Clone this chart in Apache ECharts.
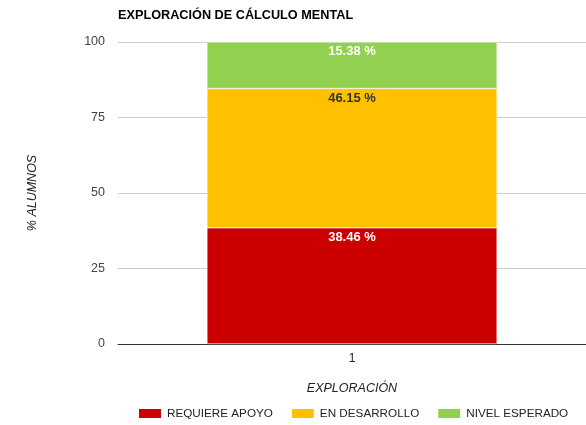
<!DOCTYPE html>
<html>
<head>
<meta charset="utf-8">
<script src="https://cdn.jsdelivr.net/npm/echarts@6/dist/echarts.min.js"></script>
<style>
    html, body { margin: 0; padding: 0; background: #fff; }
    #chart { width: 586px; height: 425px; }
</style>
</head>
<body>
<div id="chart"></div>
<script>
    // datos
    var categorias = ['1'];
    var requiereApoyo = [38.46];
    var enDesarrollo = [46.15];
    var nivelEsperado = [15.38];
    var yTicks = [0, 25, 50, 75, 100];

    var myChart = echarts.init(document.getElementById('chart'));
    var fuente = '"Liberation Sans", Arial, sans-serif';

    function serie(name, data, color, labelColor) {
        return {
            name: name,
            type: 'bar',
            stack: 'total',
            barWidth: '62%',
            data: data,
            itemStyle: {
                color: color,
                borderColor: '#fff',
                borderWidth: 0.5
            },
            label: {
                show: true,
                position: 'insideTop',
                distance: 3,
                color: labelColor,
                fontFamily: fuente,
                fontWeight: 'bold',
                fontSize: 13,
                formatter: function (p) { return p.value.toFixed(2) + ' %'; }
            }
        };
    }

    var option = {
        backgroundColor: '#fff',
        animation: false,
        textStyle: { fontFamily: fuente },
        title: {
            text: 'EXPLORACIÓN DE CÁLCULO MENTAL',
            left: 118,
            top: 9,
            padding: 0,
            textStyle: { fontFamily: fuente, fontSize: 12.7, fontWeight: 'bold', color: '#000' }
        },
        grid: {
            left: 118,
            right: 0,
            top: 42,
            bottom: 81
        },
        legend: {
            bottom: 5,
            left: 137,
            width: 449,
            padding: 0,
            itemWidth: 24,
            itemHeight: 11,
            itemGap: 17,
            icon: 'rect',
            textStyle: { fontFamily: fuente, fontSize: 11.7, color: '#222' },
            data: ['REQUIERE APOYO', 'EN DESARROLLO', 'NIVEL ESPERADO']
        },
        xAxis: {
            type: 'category',
            data: categorias,
            name: 'EXPLORACIÓN',
            nameLocation: 'middle',
            nameGap: 38,
            nameTextStyle: { fontFamily: fuente, fontSize: 12.5, fontStyle: 'italic', color: '#222' },
            axisTick: { show: false },
            axisLine: { lineStyle: { color: '#333', width: 1 } },
            axisLabel: { color: '#222', fontSize: 12, margin: 9 }
        },
        yAxis: {
            type: 'value',
            min: yTicks[0],
            max: yTicks[yTicks.length - 1],
            interval: 25,
            name: '% ALUMNOS',
            nameLocation: 'middle',
            nameGap: 79,
            nameRotate: 90,
            nameTextStyle: { fontFamily: fuente, fontSize: 12.5, fontStyle: 'italic', color: '#222' },
            axisLine: { show: false },
            axisTick: { show: false },
            axisLabel: { color: '#444', fontSize: 12.5, margin: 13 },
            splitLine: { lineStyle: { color: '#ccc', width: 1 } }
        },
        series: [
            serie('REQUIERE APOYO', requiereApoyo, '#cc0000', '#fff'),
            serie('EN DESARROLLO', enDesarrollo, '#ffc000', '#333'),
            serie('NIVEL ESPERADO', nivelEsperado, '#92d050', '#fff')
        ]
    };

    myChart.setOption(option);
</script>
</body>
</html>
